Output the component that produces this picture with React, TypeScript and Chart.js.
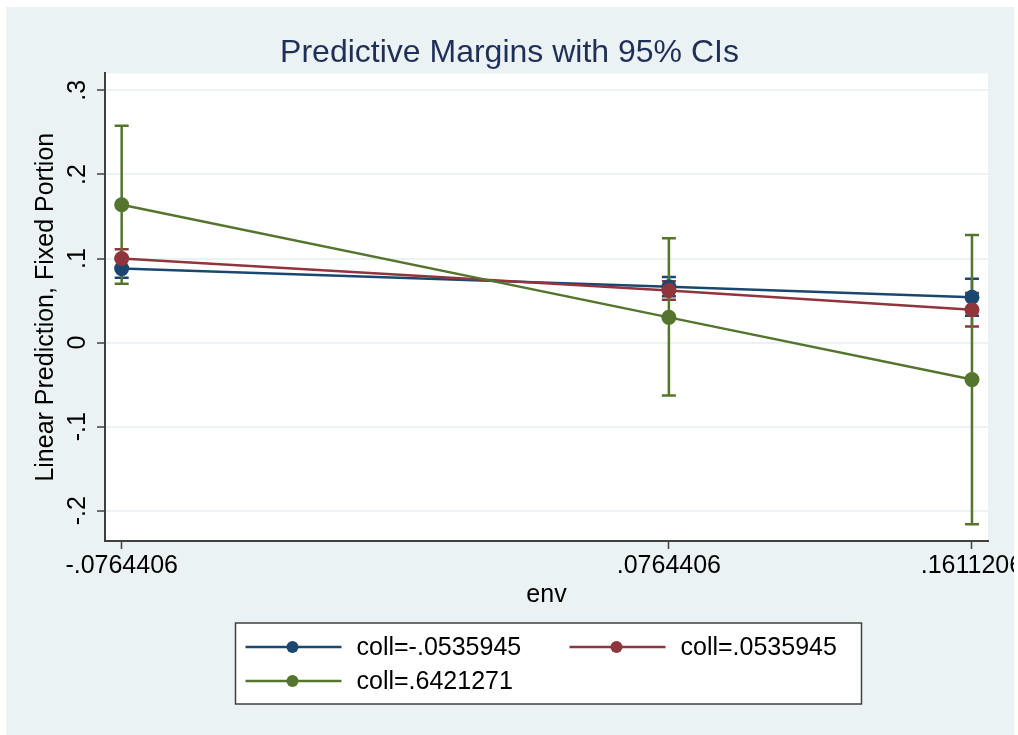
import React, { useEffect, useRef } from 'react';
import { Chart, registerables } from 'chart.js';

Chart.register(...registerables);

// ---- data ----
const envValues = [-0.0764406, 0.0764406, 0.1611206];
const xTickLabels = ['-.0764406', '.0764406', '.1611206'];
const yTickValues = [-0.2, -0.1, 0, 0.1, 0.2, 0.3];
const yTickLabels = ['-.2', '-.1', '0', '.1', '.2', '.3'];

const seriesLabels = ['coll=-.0535945', 'coll=.0535945', 'coll=.6421271'];
const seriesColors = ['#1a476f', '#90353b', '#55752f'];

const marginsLow = [0.088, 0.0665, 0.054];
const lowerLow = [0.077, 0.055, 0.032];
const upperLow = [0.1, 0.078, 0.076];

const marginsMid = [0.1, 0.062, 0.039];
const lowerMid = [0.089, 0.051, 0.019];
const upperMid = [0.111, 0.073, 0.059];

const marginsHigh = [0.164, 0.03, -0.044];
const lowerHigh = [0.07, -0.063, -0.216];
const upperHigh = [0.258, 0.124, 0.128];

const FONT = "'Liberation Sans', Arial, Helvetica, sans-serif";
const BG = '#eaf2f3';
const AXIS = '#404040';

const bgPlugin = {
  id: 'stataBg',
  beforeDraw(chart: any) {
    const { ctx, width, height, chartArea } = chart;
    ctx.save();
    ctx.fillStyle = '#ffffff';
    ctx.fillRect(0, 0, width, height);
    ctx.fillStyle = BG;
    ctx.fillRect(6, 7, width - 6, height - 7);
    ctx.fillStyle = '#ffffff';
    ctx.fillRect(chartArea.left, chartArea.top, chartArea.right - chartArea.left, chartArea.bottom - chartArea.top);
    ctx.restore();
  },
};

const ciPlugin = {
  id: 'ciBars',
  beforeDatasetsDraw(chart: any) {
    const { ctx } = chart;
    const xs = chart.scales.x;
    const ys = chart.scales.y;
    ctx.save();
    chart.data.datasets.forEach((ds: any) => {
      ctx.strokeStyle = ds.borderColor;
      ctx.lineWidth = 2.5;
      ds.data.forEach((p: any, i: number) => {
        const px = xs.getPixelForValue(p.x);
        const y1 = ys.getPixelForValue(ds.ciLower[i]);
        const y2 = ys.getPixelForValue(ds.ciUpper[i]);
        ctx.beginPath();
        ctx.moveTo(px, y1);
        ctx.lineTo(px, y2);
        ctx.moveTo(px - 7, y1);
        ctx.lineTo(px + 7, y1);
        ctx.moveTo(px - 7, y2);
        ctx.lineTo(px + 7, y2);
        ctx.stroke();
      });
    });
    ctx.restore();
  },
};

const legendPlugin = {
  id: 'stataLegend',
  afterDraw(chart: any) {
    const { ctx, chartArea } = chart;
    const xScale = chart.scales.x;
    const boxW = 626;
    const boxH = 81;
    const cx = (chartArea.left + chartArea.right) / 2 + 2;
    const left = cx - boxW / 2;
    const top = xScale.bottom + 9;
    ctx.save();
    ctx.fillStyle = '#ffffff';
    ctx.fillRect(left, top, boxW, boxH);
    ctx.strokeStyle = AXIS;
    ctx.lineWidth = 1.5;
    ctx.strokeRect(left, top, boxW, boxH);
    ctx.font = `25px ${FONT}`;
    ctx.textBaseline = 'middle';
    ctx.textAlign = 'left';
    chart.data.datasets.forEach((ds: any, i: number) => {
      const col = i % 2;
      const row = Math.floor(i / 2);
      const sx = left + 10 + col * 324;
      const sy = top + 24 + row * 34;
      ctx.strokeStyle = ds.borderColor;
      ctx.lineWidth = 2.5;
      ctx.beginPath();
      ctx.moveTo(sx, sy);
      ctx.lineTo(sx + 96, sy);
      ctx.stroke();
      ctx.fillStyle = ds.borderColor;
      ctx.beginPath();
      ctx.arc(sx + 47, sy, 6, 0, Math.PI * 2);
      ctx.fill();
      ctx.fillStyle = '#000000';
      ctx.fillText(ds.label, sx + 111, sy + 1);
    });
    ctx.restore();
  },
};

function makeDataset(idx: number, margins: number[], lower: number[], upper: number[], order: number) {
  return {
    label: seriesLabels[idx],
    data: envValues.map((x, i) => ({ x, y: margins[i] })),
    ciLower: lower,
    ciUpper: upper,
    borderColor: seriesColors[idx],
    backgroundColor: seriesColors[idx],
    pointBackgroundColor: seriesColors[idx],
    pointBorderWidth: 0,
    pointRadius: 7.5,
    borderWidth: 2.5,
    tension: 0,
    order,
  };
}

export default function App() {
  const canvasRef = useRef<HTMLCanvasElement | null>(null);

  useEffect(() => {
    if (!canvasRef.current) return;
    const chart = new Chart(canvasRef.current, {
      type: 'line',
      data: {
        datasets: [
          makeDataset(0, marginsLow, lowerLow, upperLow, 3),
          makeDataset(1, marginsMid, lowerMid, upperMid, 2),
          makeDataset(2, marginsHigh, lowerHigh, upperHigh, 1),
        ] as any,
      },
      options: {
        responsive: false,
        maintainAspectRatio: false,
        animation: false,
        layout: { padding: { left: 31, right: 26, top: 0, bottom: 121 } },
        plugins: {
          legend: { display: false },
          tooltip: { enabled: false },
          title: {
            display: true,
            text: 'Predictive Margins with 95% CIs',
            color: '#1f2f57',
            font: { family: FONT, size: 32, weight: 'normal' },
            padding: { top: 34, bottom: 1 },
          },
        },
        scales: {
          x: {
            type: 'linear',
            min: -0.0811,
            max: 0.1656,
            afterBuildTicks: (s: any) => {
              s.ticks = envValues.map((v) => ({ value: v }));
            },
            afterFit: (s: any) => {
              s.height = 73;
              s.paddingLeft = 0;
              s.paddingRight = 0;
            },
            ticks: {
              autoSkip: false,
              maxRotation: 0,
              minRotation: 0,
              padding: 2,
              color: '#000000',
              font: { family: FONT, size: 25 },
              callback: (_v: any, i: number) => xTickLabels[i],
            },
            grid: {
              drawOnChartArea: false,
              drawTicks: true,
              tickLength: 8,
              tickColor: AXIS,
              tickWidth: 1.5,
            },
            border: { display: true, color: AXIS, width: 2 },
            title: {
              display: true,
              text: 'env',
              color: '#000000',
              font: { family: FONT, size: 25 },
              padding: { top: 0, bottom: 4 },
            },
          },
          y: {
            type: 'linear',
            min: -0.236,
            max: 0.3202,
            afterBuildTicks: (s: any) => {
              s.ticks = yTickValues.map((v) => ({ value: v }));
            },
            afterFit: (s: any) => {
              s.width = 74;
              s.paddingTop = 0;
              s.paddingBottom = 0;
            },
            ticks: {
              autoSkip: false,
              minRotation: 90,
              maxRotation: 90,
              crossAlign: 'center',
              padding: 4,
              color: '#000000',
              font: { family: FONT, size: 25 },
              callback: (_v: any, i: number) => yTickLabels[i],
            },
            grid: {
              color: BG,
              lineWidth: 2,
              drawOnChartArea: true,
              drawTicks: true,
              tickLength: 8,
              tickColor: AXIS,
              tickWidth: 1.5,
            },
            border: { display: true, color: AXIS, width: 2 },
            title: {
              display: true,
              text: 'Linear Prediction, Fixed Portion',
              color: '#000000',
              font: { family: FONT, size: 25 },
              padding: { top: 0, bottom: 0 },
            },
          },
        },
      } as any,
      plugins: [bgPlugin, ciPlugin, legendPlugin],
    });
    return () => chart.destroy();
  }, []);

  return (
    <div style={{ position: 'absolute', left: 0, top: 0, width: 1014, height: 735 }}>
      <canvas ref={canvasRef} width={1014} height={735} style={{ width: 1014, height: 735, display: 'block' }} />
    </div>
  );
}
